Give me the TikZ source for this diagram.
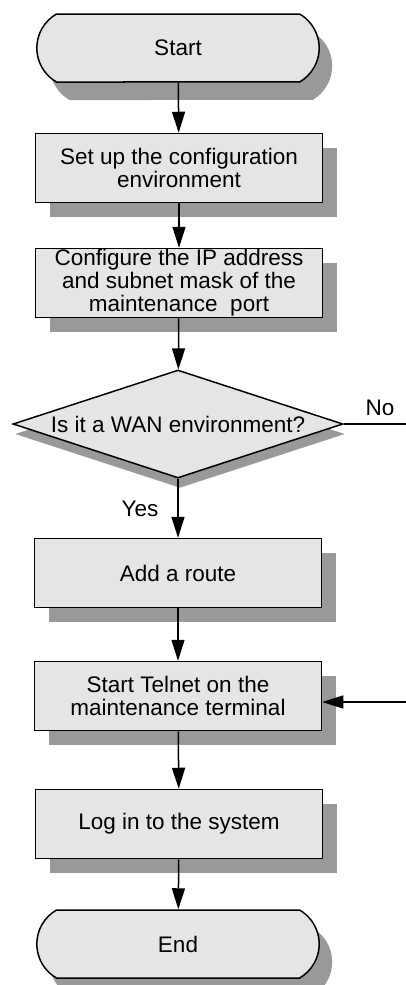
\documentclass[tikz,border=0pt]{standalone}
\usepackage{fontspec}
\setmainfont{Liberation Sans}
\usetikzlibrary{arrows.meta, shapes.geometric, shapes.misc, shadows}

\begin{document}
\begin{tikzpicture}[x=1pt, y=-1pt,
        every node/.style={font=\fontsize{22.5}{23}\selectfont, align=center},
        proc/.style={draw, line width=1.5pt, fill=black!10, minimum width=287pt, minimum height=69pt, inner sep=1pt,
            drop shadow={shadow xshift=14pt, shadow yshift=-14pt, fill=black!40, opacity=1}},
        term/.style={rounded rectangle, rounded rectangle arc length=120, draw, line width=1.5pt, fill=black!10,
            minimum width=289pt, minimum height=68pt,
            drop shadow={shadow xshift=13pt, shadow yshift=-18pt, fill=black!40, opacity=1}},
        decide/.style={diamond, aspect=3.05, draw, line width=1.5pt, fill=black!10, minimum width=330pt,
            minimum height=108pt, inner sep=0pt,
            drop shadow={shadow xshift=2pt, shadow yshift=-10pt, fill=black!40, opacity=1}},
        arr/.style={line width=1.5pt, -{Triangle[length=21pt, width=13pt]}}]
        \useasboundingbox (0,0) rectangle (406,985);
        \node[term] (start) at (178,48) {Start};
        \node[proc] (setup) at (179,168) {Set up the configuration\\environment};
        \node[proc] (ipaddr) at (179,283) {Configure the IP address\\and subnet mask of the\\maintenance\ \ port};
        \node[decide] (wan) at (178,424) {Is it a WAN environment?};
        \node[proc] (route) at (178,573) {Add a route};
        \node[proc] (telnet) at (178,696) {Start Telnet on the\\maintenance terminal};
        \node[proc] (login) at (179,824) {Log in to the system};
        \node[term] (stop) at (178,944) {End};
        \node (no) at (380,408) {No};
        \node (yes) at (140,509) {Yes};
        \coordinate (noend) at (406,424);
        \coordinate (loopin) at (406,702);
        \draw[arr] (start) -- (setup);
        \draw[arr] (setup) -- (ipaddr);
        \draw[arr] (ipaddr) -- (wan);
        \draw[arr] (wan) -- (route);
        \draw[arr] (route) -- (telnet);
        \draw[arr] (telnet) -- (login);
        \draw[arr] (login) -- (stop);
        \draw[line width=1.5pt] (wan.east) -- (noend);
        \draw[arr] (loopin) -- (loopin -| telnet.east);
\end{tikzpicture}
\end{document}
